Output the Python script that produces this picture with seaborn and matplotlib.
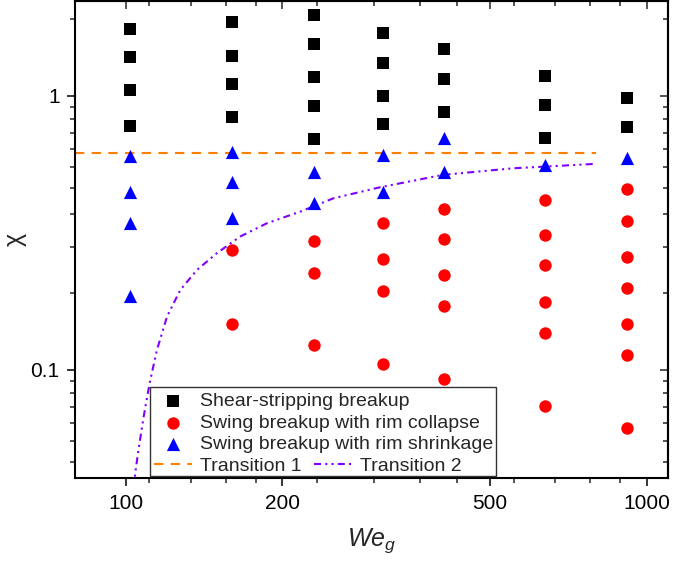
import pandas as pd
import seaborn as sns
import matplotlib.pyplot as plt
from matplotlib.ticker import FixedLocator, NullFormatter, FuncFormatter
from matplotlib.patches import Rectangle

# 样式先设好，字体要放在 set_style 后面
sns.set_style("ticks")
plt.rcParams["font.family"] = ["Liberation Sans", "DejaVu Sans"]
plt.rcParams["mathtext.fontset"] = "custom"
plt.rcParams["mathtext.it"] = "Liberation Sans:italic"
plt.rcParams["mathtext.rm"] = "Liberation Sans"

# -------------------------
# 数据（从图上读的）
# -------------------------
shear_we = [102, 102, 102, 102, 160, 160, 160, 160, 230, 230, 230, 230, 230,
            312, 312, 312, 312, 408, 408, 408, 638, 638, 638, 917, 917]
shear_chi = [1.75, 1.38, 1.05, 0.775, 1.85, 1.40, 1.10, 0.834, 1.97, 1.54, 1.17, 0.915, 0.695,
             1.69, 1.32, 1.00, 0.786, 1.48, 1.15, 0.874, 1.18, 0.923, 0.703, 0.983, 0.769]

collapse_we = [160, 160, 230, 230, 230, 312, 312, 312, 312, 408, 408, 408, 408, 408,
               638, 638, 638, 638, 638, 638, 917, 917, 917, 917, 917, 917, 917]
collapse_chi = [0.273, 0.147, 0.295, 0.226, 0.123, 0.342, 0.253, 0.194, 0.105,
                0.386, 0.299, 0.221, 0.170, 0.092, 0.416, 0.309, 0.240, 0.176, 0.136, 0.0735,
                0.458, 0.348, 0.258, 0.199, 0.147, 0.113, 0.0613]

shrink_we = [102, 102, 102, 102, 160, 160, 160, 230, 230, 312, 312, 408, 408, 638, 917]
shrink_chi = [0.603, 0.446, 0.344, 0.186, 0.625, 0.485, 0.357, 0.525, 0.405,
              0.606, 0.443, 0.699, 0.528, 0.559, 0.591]

t1_we = [80, 800]
t1_chi = [0.618, 0.618]

t2_we = [103.8, 104.4, 105.9, 108.3, 111.2, 114.9, 120.1, 127.3, 137.1, 149.7,
         166, 186.7, 216.3, 250.6, 308, 407, 555, 790]
t2_chi = [0.037, 0.042, 0.051, 0.067, 0.089, 0.118, 0.156, 0.195, 0.231, 0.266,
          0.306, 0.342, 0.377, 0.422, 0.463, 0.514, 0.543, 0.563]

x_major = [100, 200, 500, 1000]
x_minor = [111.1, 133.3, 155.6, 177.8, 233.3, 300, 366.7, 433.3, 555.6, 666.7, 777.8, 888.9]
y_major = [0.1, 1]
y_minor = [0.046, 0.055, 0.064, 0.073, 0.082, 0.091,
           0.19, 0.28, 0.37, 0.46, 0.55, 0.64, 0.73, 0.82, 0.91, 1.9]

labels = ["Shear-stripping breakup", "Swing breakup with rim collapse",
          "Swing breakup with rim shrinkage", "Transition 1", "Transition 2"]

df_shear = pd.DataFrame({"We": shear_we, "chi": shear_chi})
df_collapse = pd.DataFrame({"We": collapse_we, "chi": collapse_chi})
df_shrink = pd.DataFrame({"We": shrink_we, "chi": shrink_chi})

# -------------------------
# 画图
# -------------------------
fig = plt.figure(figsize=(6.74, 5.65), dpi=100)
ax = fig.add_axes([0.1113, 0.1535, 0.8803, 0.8448])
ax.set_xscale("log")
ax.set_yscale("log")

sns.scatterplot(data=df_shear, x="We", y="chi", marker="s", s=72, color="black",
                linewidth=0, ax=ax, label=labels[0], zorder=3)
sns.scatterplot(data=df_collapse, x="We", y="chi", marker="o", s=80, color="#FF0000",
                linewidth=0, ax=ax, label=labels[1], zorder=3)
sns.scatterplot(data=df_shrink, x="We", y="chi", marker="^", s=90, color="#0000FF",
                linewidth=0, ax=ax, label=labels[2], zorder=3)

sns.lineplot(x=t1_we, y=t1_chi, color="#FF8000", lw=1.5, ax=ax, label=labels[3], zorder=2)
ax.lines[-1].set_dashes([4.5, 3.5])
sns.lineplot(x=t2_we, y=t2_chi, color="#8000FF", lw=1.5, ax=ax, label=labels[4], zorder=2)
ax.lines[-1].set_dashes([3.4, 2, 1, 2, 1, 2])

ax.set_xlim(80, 1100)
ax.set_ylim(0.0401, 2.216)

ax.xaxis.set_major_locator(FixedLocator(x_major))
ax.xaxis.set_minor_locator(FixedLocator(x_minor))
ax.yaxis.set_major_locator(FixedLocator(y_major))
ax.yaxis.set_minor_locator(FixedLocator(y_minor))
fmt = FuncFormatter(lambda v, _: f"{v:g}")
ax.xaxis.set_major_formatter(fmt)
ax.yaxis.set_major_formatter(fmt)
ax.xaxis.set_minor_formatter(NullFormatter())
ax.yaxis.set_minor_formatter(NullFormatter())

ax.tick_params(which="major", direction="out", length=6, width=1.1, labelsize=15, pad=5,
               colors="black")
ax.tick_params(which="minor", direction="out", length=3.5, width=1.1)
for sp in ax.spines.values():
    sp.set_linewidth(1.5)
    sp.set_color("black")

# 上边和右边的刻度朝里，不要标签
top = ax.secondary_xaxis("top")
top.xaxis.set_major_locator(FixedLocator(x_major))
top.xaxis.set_minor_locator(FixedLocator(x_minor))
top.xaxis.set_major_formatter(NullFormatter())
top.xaxis.set_minor_formatter(NullFormatter())
top.tick_params(which="both", direction="in", width=1.1, labeltop=False)
top.tick_params(which="major", length=6)
top.tick_params(which="minor", length=3.5)
right = ax.secondary_yaxis("right")
right.yaxis.set_major_locator(FixedLocator(y_major))
right.yaxis.set_minor_locator(FixedLocator(y_minor))
right.yaxis.set_major_formatter(NullFormatter())
right.yaxis.set_minor_formatter(NullFormatter())
right.tick_params(which="both", direction="in", width=1.1, labelright=False)
right.tick_params(which="major", length=6)
right.tick_params(which="minor", length=3.5)
for sec in (top, right):
    for sp in sec.spines.values():
        sp.set_linewidth(1.5)

ax.set_xlabel(r"$\mathit{We}_{g}$", fontsize=18, labelpad=10)
ax.set_ylabel("χ", fontsize=18, labelpad=3)

# 图例：前四行一列，Transition 2 放在第四行右边，外面一个框
ax.add_patch(Rectangle((0.1264, 0.0048), 0.5833, 0.1865, transform=ax.transAxes,
                       facecolor="white", edgecolor="#333333", lw=1.0, zorder=4))
h, l = ax.get_legend_handles_labels()
hd = dict(zip(l, h))
leg_kw = dict(frameon=False, fontsize=14, handlelength=1.95, handletextpad=0.41,
              borderpad=0, borderaxespad=0, labelspacing=0.2)
leg1 = ax.legend([hd[k] for k in labels[:4]], labels[:4], loc="lower left",
                 bbox_to_anchor=(0.1332, 0.0069), **leg_kw)
ax.add_artist(leg1)
leg2 = ax.legend([hd[labels[4]]], [labels[4]], loc="lower left",
                 bbox_to_anchor=(0.4023, 0.0069), **leg_kw)

fig.savefig("out.png", dpi=100)
